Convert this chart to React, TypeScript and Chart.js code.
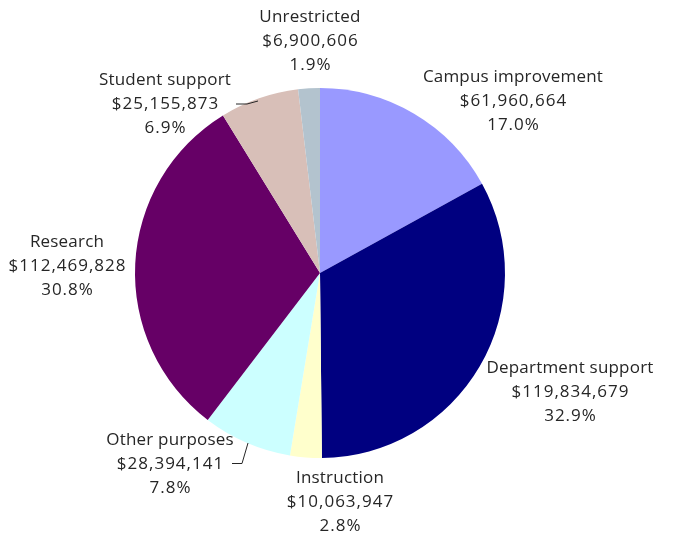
import React, { useEffect, useRef } from "react";
import { Chart, registerables } from "chart.js";

Chart.register(...registerables);

const categories = [
  "Campus improvement",
  "Department support",
  "Instruction",
  "Other purposes",
  "Research",
  "Student support",
  "Unrestricted",
];
const amounts = [61960664, 119834679, 10063947, 28394141, 112469828, 25155873, 6900606];
const percentLabels = ["17.0%", "32.9%", "2.8%", "7.8%", "30.8%", "6.9%", "1.9%"];
const colors = ["#9999FF", "#000080", "#FFFFCC", "#CCFFFF", "#660066", "#D8BFB8", "#B3C3CE"];

// label anchor (text block centre x, first-line y) per slice
const labelPos: [number, number][] = [
  [513, 77],
  [570, 368],
  [340, 478],
  [170, 440],
  [67, 242],
  [165, 80],
  [310, 17],
];

const fmt = (v: number) => "$" + v.toLocaleString("en-US");

const labelPlugin = {
  id: "outsideLabels",
  afterDatasetsDraw(chart: any) {
    const ctx = chart.ctx;
    ctx.save();
    ctx.fillStyle = "#262626";
    ctx.font = '17px "Open Sans", sans-serif';
    ctx.textAlign = "center";
    ctx.textBaseline = "middle";
    categories.forEach((c, i) => {
      const [x, y] = labelPos[i];
      const lines = [c, fmt(amounts[i]), percentLabels[i]];
      lines.forEach((t, k) => {
        (ctx as any).letterSpacing = k === 0 ? "0.2px" : "1px";
        ctx.fillText(t, x + (k === 0 ? 0 : 0.5), y + k * 24);
      });
    });
    (ctx as any).letterSpacing = "0px";
    // leader lines
    ctx.strokeStyle = "#262626";
    ctx.lineWidth = 1;
    ctx.beginPath();
    ctx.moveTo(236, 104);
    ctx.lineTo(247, 104);
    ctx.lineTo(258, 101);
    ctx.moveTo(232, 463.5);
    ctx.lineTo(242, 463.5);
    ctx.lineTo(248, 443);
    ctx.stroke();
    ctx.restore();
  },
};

export default function App() {
  const ref = useRef<HTMLCanvasElement>(null);
  useEffect(() => {
    if (!ref.current) return;
    const chart = new Chart(ref.current, {
      type: "pie",
      data: {
        labels: categories,
        datasets: [
          {
            data: amounts,
            backgroundColor: colors,
            borderWidth: 0,
          },
        ],
      },
      options: {
        animation: false,
        responsive: false,
        layout: { padding: { left: 135, right: 168, top: 88, bottom: 80 } },
        plugins: { legend: { display: false }, tooltip: { enabled: false } },
      },
      plugins: [labelPlugin],
    });
    return () => chart.destroy();
  }, []);
  return (
    <div style={{ position: "fixed", left: 0, top: 0, width: 673, height: 538, background: "#fff" }}>
      <canvas ref={ref} width={673} height={538} />
    </div>
  );
}
